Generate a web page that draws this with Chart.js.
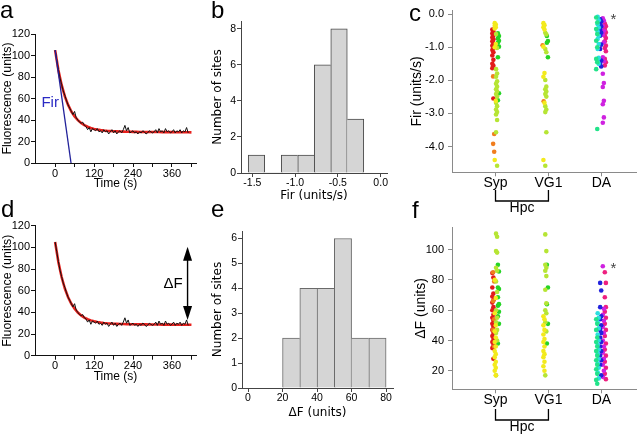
<!DOCTYPE html>
<html>
<head>
<meta charset="utf-8">
<script src="https://cdn.jsdelivr.net/npm/chart.js@4.4.0/dist/chart.umd.min.js"></script>
<style>
  html, body { margin: 0; padding: 0; background: #fff; }
  body { width: 640px; height: 435px; position: relative; overflow: hidden; font-family: "Liberation Sans", Arial, sans-serif; }
  .panel { position: absolute; }
  .letter { position: absolute; font-size: 24px; line-height: 24px; color: #000; z-index: 2; }
</style>
</head>
<body>
<div class="panel" style="left:0;top:0;width:210px;height:200px"><canvas id="traceA"></canvas></div>
<div class="panel" style="left:210px;top:0;width:200px;height:205px"><canvas id="histFir"></canvas></div>
<div class="panel" style="left:405px;top:0;width:235px;height:217px"><canvas id="stripFir"></canvas></div>
<div class="panel" style="left:0;top:205px;width:210px;height:230px"><canvas id="traceD"></canvas></div>
<div class="panel" style="left:210px;top:205px;width:200px;height:230px"><canvas id="histDF"></canvas></div>
<div class="panel" style="left:405px;top:217px;width:235px;height:218px"><canvas id="stripDF"></canvas></div>

<div class="letter" style="left:0;top:-2px">a</div>
<div class="letter" style="left:211px;top:-2px">b</div>
<div class="letter" style="left:409px;top:1px">c</div>
<div class="letter" style="left:1px;top:197px">d</div>
<div class="letter" style="left:211px;top:197px">e</div>
<div class="letter" style="left:412px;top:198px">f</div>

<script>
// ---- a / d : example release trace ----
const traceStep = 5; // s between samples
const traceF = [105, 96, 87, 79, 73, 67, 63, 58, 54, 51,
                48, 45, 48, 42, 40, 38, 37, 38, 35, 34,
                31, 33, 29, 32, 31, 30, 32, 29, 30, 28,
                31, 29, 30, 27, 29, 31, 28, 30, 27, 29,
                30, 28, 31, 35, 30, 33, 28, 29, 30, 28,
                29, 27, 29, 28, 30, 29, 27, 28, 30, 29,
                28, 29, 31, 28, 32, 29, 30, 28, 32, 29,
                30, 28, 29, 31, 28, 30, 29, 31, 28, 30,
                29, 33, 28];
const fitStep = 10;
const fitF = [105, 86.5, 72.6, 62.0, 54.0, 47.9, 43.4, 39.9, 37.2, 35.2,
              33.7, 32.6, 31.7, 31.1, 30.6, 30.2, 29.9, 29.7, 29.5, 29.4,
              29.3, 29.2, 29.1, 29.1, 29.0, 29.0, 28.9, 28.9, 28.9, 28.8,
              28.8, 28.8, 28.8, 28.7, 28.7, 28.7, 28.7, 28.6, 28.6, 28.6,
              28.6, 28.6, 28.5];
const firLineT = [0, 49];
const firLineF = [105, 0];
const arrowT = 408;
const arrowF = [33, 100.5];
const timeTicks = [0, 60, 120, 180, 240, 300, 360, 420];
const fluorTicks = [0, 20, 40, 60, 80, 100, 120];

// ---- b : histogram of Fir ----
const firBinCenters = [-1.452, -1.259, -1.066, -0.873, -0.680, -0.487, -0.294];
const firCounts = [1, 0, 1, 1, 6, 8, 3];
const firHistTicks = [-1.5, -1.0, -0.5, 0.0];
const firCountTicks = [0, 2, 4, 6, 8];

// ---- e : histogram of dF ----
const dfBinCenters = [5, 15, 25, 35, 45, 55, 65, 75];
const dfCounts = [0, 0, 2, 4, 4, 6, 2, 2];
const dfHistTicks = [0, 20, 40, 60, 80];
const dfCountTicks = [0, 1, 2, 3, 4, 5, 6];

// ---- c / f : per-site values ----
const groups = ['Syp', 'VG1', 'DA'];
const firStripTicks = [0, -1, -2, -3, -4];
const dfStripTicks = [20, 40, 60, 80, 100];

const firSypRed = [-0.46, -0.52, -0.58, -0.64, -0.70, -0.76, -0.82, -0.88, -0.95, -1.02, -1.08, -1.15, -1.25, -1.38, -1.50, -1.56, -1.63, -2.55];
const firSypOrange = [-1.88, -3.62, -3.92, -4.16];
const firSypYellow = [-0.27, -0.31, -0.35, -0.39, -0.43, -0.90, -1.00, -2.62, -4.41];
const firSypYgreen = [-0.60, -1.02, -1.66, -1.79, -1.89, -2.03, -2.10, -2.19, -2.27, -2.34, -2.41, -2.49, -2.68, -2.78, -2.88, -2.96, -3.03, -3.20, -3.57, -4.58];
const firSypGreen = [-0.58, -0.66, -0.73, -0.80, -0.86, -0.98, -1.30, -2.39, -2.60];
const firVg1Yellow = [-0.27, -0.33, -0.39, -0.46, -0.98, -1.78, -1.89, -2.68, -4.41];
const firVg1Orange = [-0.94, -2.63];
const firVg1Ygreen = [-0.56, -0.61, -1.05, -1.15, -1.99, -2.19, -2.27, -2.34, -2.41, -2.49, -2.78, -2.88, -2.96, -3.57, -4.58];
const firVg1Green = [-0.66, -0.81, -0.86, -1.30];
const firDaTeal = [-0.10, -0.25, -0.45, -0.60, -0.80, -1.00, -1.35, -1.45, -1.66, -3.47];
const firDaCyan = [-0.08, -0.18, -0.30, -0.40, -0.52, -0.65, -0.75, -0.90, -1.05, -1.32, -1.42, -1.50];
const firDaBlue = [-0.15, -0.22, -0.30, -0.38, -0.48, -0.56, -0.65, -0.92, -1.05, -1.40, -1.50, -1.58];
const firDaMagenta = [-0.12, -0.20, -0.35, -0.50, -0.62, -0.85, -1.30, -1.42, -1.80, -2.08, -2.20, -2.62, -2.72, -3.12, -3.28];
const firDaPink = [-0.28, -0.36, -0.45, -0.55, -0.65, -0.72, -0.82, -0.95, -1.02, -1.12, -1.35, -1.45, -1.55];

const dfSypRed = [84.5, 81.5, 75, 71, 69, 66.5, 65, 62, 60, 57, 55, 53, 51, 49, 47, 45, 43, 41, 39, 37, 35, 28];
const dfSypOrange = [85, 79, 66, 54, 47, 36];
const dfSypYellow = [80, 68, 58, 50, 46, 42, 39, 36, 33, 31, 29, 26, 24, 22, 20, 17];
const dfSypYgreen = [110.5, 108.5, 99, 98, 88, 86, 79, 72, 60, 55, 52, 47, 45, 40, 17];
const dfSypGreen = [90, 85.5, 75, 74, 68.5, 64, 63, 59, 56, 51, 38];
const dfVg1Yellow = [56, 54, 50, 47, 44, 41, 39, 36, 33, 31, 29, 26, 23, 20];
const dfVg1Ygreen = [110, 99, 90, 88, 86, 82.5, 73.5, 64.5, 60, 58, 52, 46, 17];
const dfVg1Green = [90, 75, 64, 51, 38];
const dfDaTeal = [54, 51, 47, 42, 39, 36, 33, 30, 27, 24, 21, 18, 14, 11.5];
const dfDaCyan = [58, 55, 52, 48, 44, 40, 37, 34, 31, 28, 25, 22, 19, 15];
const dfDaBlue = [78, 73, 62, 56, 54, 50, 47, 45, 42, 39, 36, 33, 30, 27, 24, 17];
const dfDaMagenta = [89, 61, 57, 53, 49, 45, 40, 36, 32, 28, 24, 20, 16];
const dfDaPink = [85, 78, 68.5, 62, 59, 55, 51, 47, 43, 38, 34, 30, 26, 22, 18, 14.5];

// styles
const dotColors = { red: '#e21b1b', orange: '#f07d1e', yellow: '#f3ea1c', ygreen: '#b6e534', green: '#25d425',
                    teal: '#22e38a', cyan: '#2adfe0', blue: '#2222dd', magenta: '#cf22e0', pink: '#ee2080' };
const dotOffsets = [
  { red: -0.05, orange: -0.035, yellow: -0.005, ygreen: 0.02, green: 0.055 },
  { orange: -0.1, yellow: -0.085, ygreen: -0.05, green: -0.02 },
  { teal: -0.088, cyan: -0.06, blue: -0.013, magenta: 0.037, pink: 0.075 }
];

const firSeries = [
  [0, 'yellow', firSypYellow], [0, 'ygreen', firSypYgreen], [0, 'orange', firSypOrange], [0, 'red', firSypRed], [0, 'green', firSypGreen],
  [1, 'yellow', firVg1Yellow], [1, 'ygreen', firVg1Ygreen], [1, 'orange', firVg1Orange], [1, 'green', firVg1Green],
  [2, 'teal', firDaTeal], [2, 'cyan', firDaCyan], [2, 'blue', firDaBlue], [2, 'magenta', firDaMagenta], [2, 'pink', firDaPink]
];
const dfSeries = [
  [0, 'yellow', dfSypYellow], [0, 'ygreen', dfSypYgreen], [0, 'orange', dfSypOrange], [0, 'red', dfSypRed], [0, 'green', dfSypGreen],
  [1, 'yellow', dfVg1Yellow], [1, 'ygreen', dfVg1Ygreen], [1, 'green', dfVg1Green],
  [2, 'teal', dfDaTeal], [2, 'cyan', dfDaCyan], [2, 'blue', dfDaBlue], [2, 'magenta', dfDaMagenta], [2, 'pink', dfDaPink]
];

Chart.defaults.font.family = '"Liberation Sans", Arial, sans-serif';
Chart.defaults.color = '#000';
Chart.defaults.animation = false;
Chart.defaults.events = [];
Chart.defaults.plugins.legend.display = false;
Chart.defaults.plugins.tooltip.enabled = false;

function tickMarks(color) {
  return { display: true, drawOnChartArea: false, drawTicks: true, tickLength: 4, color: color, offset: false };
}
function fixTicks(values) {
  return scale => { scale.ticks = values.map(v => ({ value: v })); };
}

// Fir label next to the initial-rate line (panel a)
const firLabel = {
  id: 'firLabel',
  afterDatasetsDraw(chart) {
    const { ctx, scales: { x, y } } = chart;
    ctx.save();
    ctx.fillStyle = '#2b2bc4';
    ctx.font = '15px "Liberation Sans", Arial';
    ctx.textAlign = 'center';
    ctx.textBaseline = 'middle';
    ctx.fillText('Fir', x.getPixelForValue(firLineT[0]) - 5, y.getPixelForValue(56));
    ctx.restore();
  }
};

// double arrow for dF (panel d)
const deltaArrow = {
  id: 'deltaArrow',
  afterDatasetsDraw(chart) {
    const { ctx, scales: { x, y } } = chart;
    const px = x.getPixelForValue(arrowT);
    const top = y.getPixelForValue(arrowF[1]);
    const bot = y.getPixelForValue(arrowF[0]);
    ctx.save();
    ctx.strokeStyle = '#000';
    ctx.fillStyle = '#000';
    ctx.lineWidth = 1.4;
    ctx.beginPath();
    ctx.moveTo(px, top + 10);
    ctx.lineTo(px, bot - 10);
    ctx.stroke();
    ctx.beginPath();
    ctx.moveTo(px, top); ctx.lineTo(px - 4.5, top + 14); ctx.lineTo(px + 4.5, top + 14);
    ctx.closePath(); ctx.fill();
    ctx.beginPath();
    ctx.moveTo(px, bot); ctx.lineTo(px - 4.5, bot - 14); ctx.lineTo(px + 4.5, bot - 14);
    ctx.closePath(); ctx.fill();
    ctx.font = '15px "Liberation Sans", Arial';
    ctx.textAlign = 'right';
    ctx.textBaseline = 'middle';
    ctx.fillText('\u0394F', px - 5, (top + bot) / 2);
    ctx.restore();
  }
};

function traceChart(id, padTop, axisH, titlePad, extraPlugins, extraSets) {
  return new Chart(document.getElementById(id), {
    type: 'line',
    data: {
      datasets: [
        ...extraSets,
        { data: traceF.map((f, i) => ({ x: i * traceStep, y: f })), borderColor: '#111', borderWidth: 1, pointRadius: 0 },
        { data: fitF.map((f, i) => ({ x: i * fitStep, y: f })), borderColor: '#e8211d', borderWidth: 2.6, pointRadius: 0 }
      ]
    },
    options: {
      responsive: true,
      maintainAspectRatio: false,
      layout: { padding: { top: padTop, right: 14, bottom: 0, left: 0 } },
      scales: {
        x: {
          type: 'linear', min: -62, max: 434,
          afterBuildTicks: fixTicks(timeTicks),
          afterFit: s => { s.height = axisH; },
          ticks: { callback: v => (v % 120 === 0 ? v : ''), font: { size: 11 }, padding: 0, maxRotation: 0, autoSkip: false },
          grid: tickMarks('#111'),
          border: { display: true, color: '#111', width: 1 },
          title: { display: true, text: 'Time (s)', font: { size: 12 }, padding: { top: 0, bottom: titlePad } }
        },
        y: {
          type: 'linear', min: 0, max: 120,
          afterBuildTicks: fixTicks(fluorTicks),
          afterFit: s => { s.width = 35; },
          ticks: { font: { size: 11 }, padding: 1, autoSkip: false },
          grid: tickMarks('#111'),
          border: { display: true, color: '#111', width: 1 },
          title: { display: true, text: 'Fluorescence (units)', font: { size: 12.4 }, padding: { top: 0, bottom: 0 } }
        }
      }
    },
    plugins: extraPlugins
  });
}

traceChart('traceA', 34, 37, 8.8, [firLabel], [
  { data: firLineT.map((t, i) => ({ x: t, y: firLineF[i] })), borderColor: '#22229a', borderWidth: 1.3, pointRadius: 0 }
]);
traceChart('traceD', 20.7, 79.3, 51.1, [deltaArrow], []);

function histChart(id, centers, counts, opts) {
  return new Chart(document.getElementById(id), {
    type: 'bar',
    data: {
      datasets: [{
        data: centers.map((c, i) => ({ x: c, y: counts[i] })),
        backgroundColor: '#d5d5d5',
        borderColor: opts.edge,
        borderSkipped: false,
        borderWidth: ctx => {
          const i = ctx.dataIndex;
          const prev = i > 0 ? counts[i - 1] : 0;
          const next = i < counts.length - 1 ? counts[i + 1] : 0;
          return { top: 1, bottom: 0, left: prev <= counts[i] ? 1 : 0, right: next < counts[i] ? 1 : 0 };
        },
        barPercentage: 1,
        categoryPercentage: 1
      }]
    },
    options: {
      responsive: true,
      maintainAspectRatio: false,
      layout: { padding: opts.pad },
      scales: {
        x: {
          type: 'linear', min: opts.xMin, max: opts.xMax, offset: false,
          afterBuildTicks: fixTicks(opts.xTicks),
          afterFit: s => { s.height = opts.axisH; },
          ticks: { callback: opts.xFmt, font: { size: 10.5 }, padding: 0, maxRotation: 0, autoSkip: false },
          grid: tickMarks('#444'),
          border: { display: true, color: '#444', width: 1 },
          title: { display: true, text: opts.xTitle, font: { family: '"DejaVu Sans", sans-serif', size: 12 }, padding: { top: 0, bottom: opts.titlePad } }
        },
        y: {
          type: 'linear', min: 0, max: opts.yMax,
          afterBuildTicks: fixTicks(opts.yTicks),
          afterFit: s => { s.width = opts.axisW; },
          ticks: { font: { size: 10.5 }, padding: 1, autoSkip: false },
          grid: tickMarks('#444'),
          border: { display: true, color: '#444', width: 1 },
          title: { display: true, text: 'Number of sites', font: { family: '"DejaVu Sans", sans-serif', size: 12 }, padding: { top: 1, bottom: 0 } }
        }
      }
    }
  });
}

histChart('histFir', firBinCenters, firCounts, {
  edge: '#4a4a4a', pad: { top: 21, right: 23, bottom: 0, left: 0 },
  xMin: -1.633, xMax: 0.074, xTicks: firHistTicks, xFmt: v => v.toFixed(1), axisH: 32, titlePad: 1.8,
  xTitle: 'Fir (units/s)', yMax: 8.44, yTicks: firCountTicks, axisW: 31
});
histChart('histDF', dfBinCenters, dfCounts, {
  edge: '#6a6a6a', pad: { top: 26, right: 17, bottom: 0, left: 0 },
  xMin: -3.5, xMax: 84, xTicks: dfHistTicks, xFmt: v => v, axisH: 47, titlePad: 14.5,
  xTitle: '\u0394F (units)', yMax: 6.3, yTicks: dfCountTicks, axisW: 32
});

// Hpc bracket under Syp/VG1 and the star over DA
const hpcBracket = {
  id: 'hpcBracket',
  afterDraw(chart, args, opts) {
    const { ctx, chartArea, scales: { x, y } } = chart;
    const x1 = x.getPixelForValue(1), x2 = x.getPixelForValue(2);
    const y0 = chartArea.bottom + opts.drop, y1 = y0 + 11;
    ctx.save();
    ctx.strokeStyle = '#000';
    ctx.lineWidth = 1.3;
    ctx.beginPath();
    ctx.moveTo(x1, y0); ctx.lineTo(x1, y1); ctx.lineTo(x2, y1); ctx.lineTo(x2, y0);
    ctx.stroke();
    ctx.fillStyle = '#000';
    ctx.font = '14px "Liberation Sans", Arial';
    ctx.textAlign = 'center';
    ctx.textBaseline = 'middle';
    ctx.fillText('Hpc', (x1 + x2) / 2, y1 + opts.textGap);
    ctx.fillStyle = '#444';
    ctx.font = '15px "Liberation Sans", Arial';
    ctx.fillText('*', x.getPixelForValue(3) + 12, y.getPixelForValue(opts.starAt) + 3);
    ctx.restore();
  }
};

function stripChart(id, series, opts) {
  const daTop = Math.max(...series.filter(s => s[0] === 2).flatMap(s => s[2]));
  return new Chart(document.getElementById(id), {
    type: 'scatter',
    data: {
      datasets: series.map(([g, col, vals]) => ({
        data: vals.map((v, i) => ({ x: g + 1 + dotOffsets[g][col] + (i % 2 ? 0.01 : -0.01), y: v })),
        pointBackgroundColor: dotColors[col],
        pointBorderWidth: 0,
        pointRadius: 2.3
      }))
    },
    options: {
      responsive: true,
      maintainAspectRatio: false,
      layout: { padding: { top: opts.padTop, right: 2, bottom: 0, left: 0 } },
      plugins: { hpcBracket: { drop: opts.drop, textGap: opts.textGap, starAt: daTop } },
      scales: {
        x: {
          type: 'linear', min: 0.178, max: 3.654,
          afterBuildTicks: fixTicks([1, 2, 3]),
          afterFit: s => { s.height = opts.axisH; },
          ticks: { callback: v => groups[v - 1], font: { size: 14, lineHeight: 1 }, padding: 0, maxRotation: 0, autoSkip: false },
          grid: tickMarks('#8a8a8a'),
          border: { display: true, color: '#8a8a8a', width: 1 }
        },
        y: {
          type: 'linear', min: opts.yMin, max: opts.yMax,
          afterBuildTicks: fixTicks(opts.yTicks),
          afterFit: s => { s.width = 47; },
          ticks: { callback: opts.yFmt, font: { size: 11 }, padding: 4, autoSkip: false },
          grid: tickMarks('#8a8a8a'),
          border: { display: true, color: '#8a8a8a', width: 1 },
          title: { display: true, text: opts.yTitle, font: { size: 14 }, padding: { top: opts.titleTop, bottom: 0 } }
        }
      }
    },
    plugins: [hpcBracket]
  });
}

stripChart('stripFir', firSeries, {
  padTop: 7.3, axisH: 44.7, drop: 17.7, textGap: 7.5,
  yMin: -4.78, yMax: 0.11, yTicks: firStripTicks, yFmt: v => v.toFixed(1),
  yTitle: 'Fir (units/s)', titleTop: 3.6
});
stripChart('stripDF', dfSeries, {
  padTop: 9, axisH: 45.7, drop: 19.7, textGap: 7.3,
  yMin: 7.8, yMax: 114.5, yTicks: dfStripTicks, yFmt: v => v,
  yTitle: '\u0394F (units)', titleTop: 7.6
});
</script>
</body>
</html>
